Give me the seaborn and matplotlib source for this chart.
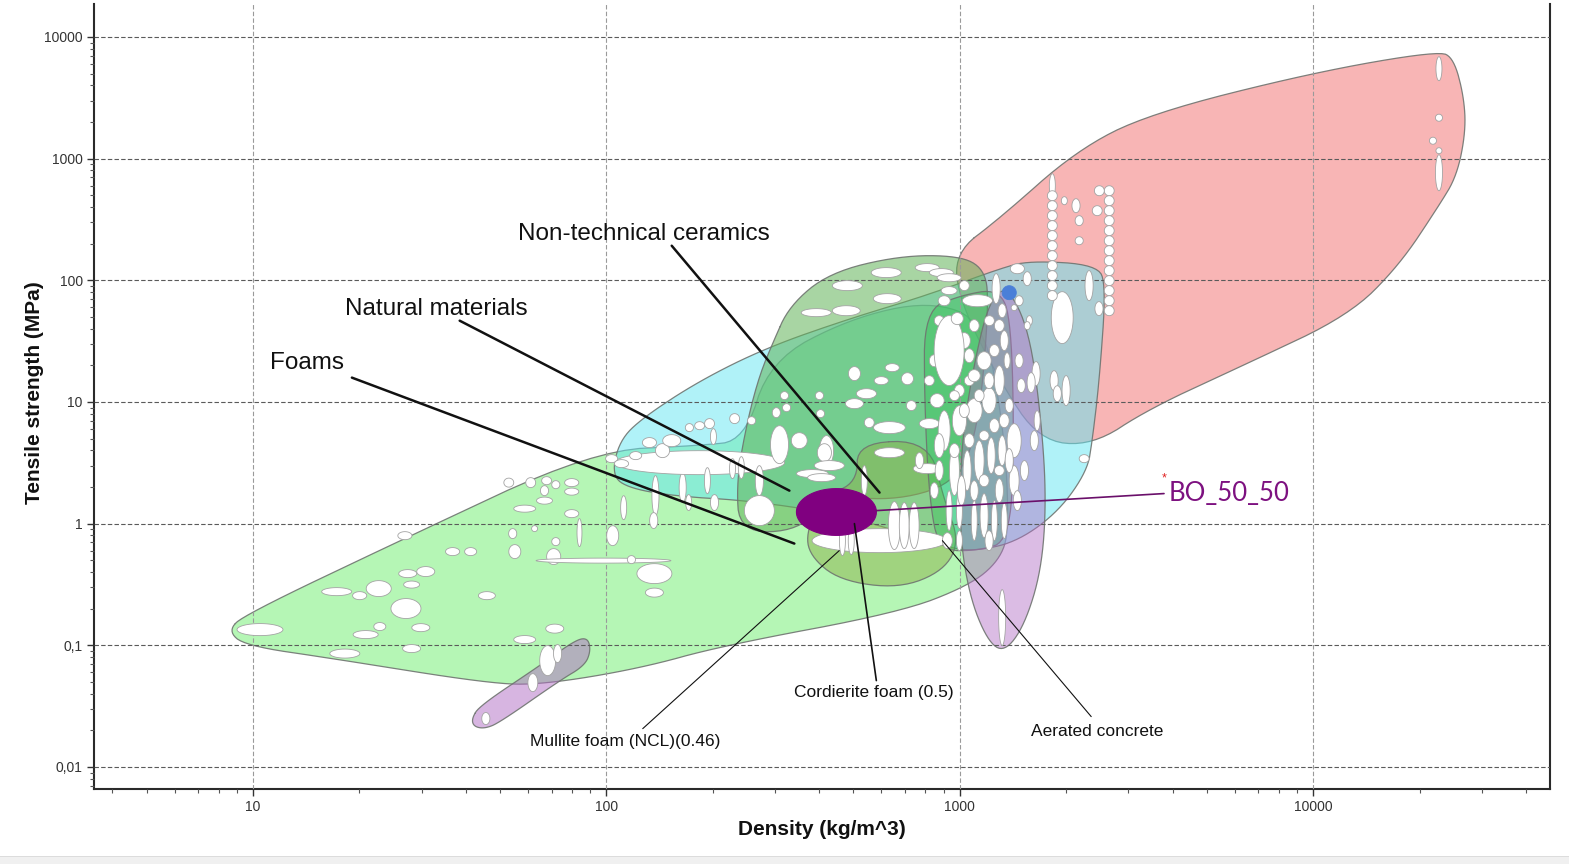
import numpy as np
import matplotlib
matplotlib.use("Agg")
import matplotlib.pyplot as plt
from matplotlib.patches import Rectangle
import seaborn as sns

# ---------------------------------------------------------------------------
# Axis ticks
# ---------------------------------------------------------------------------
DENSITY_TICKS = [10, 100, 1000, 10000]
DENSITY_TICK_LABELS = ["10", "100", "1000", "10000"]
STRENGTH_TICKS = [0.01, 0.1, 1, 10, 100, 1000, 10000]
STRENGTH_TICK_LABELS = ["0,01", "0,1", "1", "10", "100", "1000", "10000"]

# ---------------------------------------------------------------------------
# Family envelopes: outline vertices as log10(density [kg/m^3]) and
# log10(tensile strength [MPa])
# ---------------------------------------------------------------------------
FOAMS_LOG_RHO = [0.929, 0.977, 1.416, 1.961, 2.264, 2.391, 2.462, 2.688, 2.914, 3.069, 3.126,
                 3.140, 3.112, 3.027, 2.829, 2.329, 2.094, 1.820, 1.670, 1.226, 0.977]
FOAMS_LOG_SIG = [-0.879, -0.748, -0.140, 0.600, 0.641, 0.682, 1.339, 1.685, 1.832, 1.668, 0.764,
                 -0.058, -0.304, -0.509, -0.731, -1.003, -1.191, -1.323, -1.315, -1.109, -1.003]

METALS_LOG_RHO = [2.985, 3.112, 3.329, 3.536, 3.997, 4.356, 4.398, 4.426, 4.432, 4.407,
                  4.356, 4.243, 4.101, 3.819, 3.536, 3.375, 3.225, 3.112, 2.999]
METALS_LOG_SIG = [2.227, 2.506, 3.065, 3.369, 3.706, 3.887, 3.821, 3.517, 3.229, 2.860,
                  2.613, 2.120, 1.711, 1.323, 0.945, 0.640, 0.682, 1.175, 1.832]

COMPOSITES_LOG_RHO = [2.015, 2.037, 2.103, 2.264, 2.453, 2.688, 2.905, 3.112, 3.197, 3.389,
                      3.414, 3.395, 3.375, 3.361, 3.282, 3.168, 3.056, 2.970, 2.688, 2.405,
                      2.207, 2.066]
COMPOSITES_LOG_SIG = [0.394, 0.682, 0.871, 1.175, 1.446, 1.685, 1.874, 2.095, 2.161, 2.128,
                      1.956, 1.175, 0.682, 0.436, 0.107, -0.140, -0.222, -0.205, 0.066, 0.189,
                      0.222, 0.288]

NATURAL_LOG_RHO = [2.470, 2.518, 2.631, 2.829, 2.999, 3.069, 3.083, 3.056, 2.999, 2.829,
                   2.631, 2.547, 2.377, 2.368, 2.399, 2.433]
NATURAL_LOG_SIG = [1.479, 1.791, 2.063, 2.202, 2.202, 2.095, 1.832, 0.846, 0.353, 0.189,
                   0.230, -0.058, -0.074, 0.353, 0.846, 1.216]

POLYMERS_LOG_RHO = [2.900, 2.999, 3.112, 3.146, 3.154, 3.140, 3.056, 2.942, 2.914, 2.900]
POLYMERS_LOG_SIG = [1.750, 1.874, 1.931, 1.668, 0.600, -0.140, -0.222, -0.222, 0.189, 1.011]

NONTECH_LOG_RHO = [2.710, 2.914, 2.956, 2.999, 2.956, 2.829, 2.660, 2.575, 2.566, 2.617, 2.710]
NONTECH_LOG_SIG = [0.666, 0.682, 0.189, -0.140, -0.386, -0.534, -0.468, -0.263, -0.058, 0.230, 0.337]

ELASTOMERS_LOG_RHO = [3.134, 3.197, 3.231, 3.245, 3.231, 3.183, 3.126, 3.078, 3.027, 2.999,
                      3.005, 3.042, 3.084]
ELASTOMERS_LOG_SIG = [1.956, 1.586, 0.846, 0.189, -0.386, -0.838, -1.060, -0.961, -0.592, -0.058,
                      0.682, 1.339, 1.832]

ELASTOMER_FOAMS_LOG_RHO = [1.619, 1.642, 1.812, 1.910, 1.947, 1.956, 1.939, 1.868, 1.698, 1.656, 1.625]
ELASTOMER_FOAMS_LOG_SIG = [-1.602, -1.496, -1.167, -0.961, -0.937, -1.044, -1.167, -1.290, -1.635,
                           -1.685, -1.668]

# ---------------------------------------------------------------------------
# Individual materials: (log10 density centre, log10 strength centre,
#                        density range in decades, strength range in decades)
# ---------------------------------------------------------------------------
FOAM_GRADES = [
    (1.020, -0.871, 0.130, 0.099), (1.260, -1.068, 0.085, 0.074), (1.237, -0.559, 0.085, 0.066),
    (1.302, -0.592, 0.040, 0.066), (1.356, -0.534, 0.071, 0.131), (1.433, -0.698, 0.085, 0.164),
    (1.359, -0.846, 0.034, 0.066), (1.319, -0.912, 0.071, 0.066), (1.475, -0.855, 0.051, 0.066),
    (1.449, -1.027, 0.051, 0.066), (1.438, -0.411, 0.051, 0.066), (1.489, -0.394, 0.051, 0.082),
    (1.449, -0.501, 0.045, 0.058), (1.430, -0.099, 0.040, 0.066), (1.565, -0.230, 0.040, 0.066),
    (1.616, -0.230, 0.034, 0.066), (1.662, -0.592, 0.048, 0.066), (1.724, 0.337, 0.028, 0.074),
    (1.786, 0.337, 0.028, 0.082), (1.831, 0.353, 0.028, 0.066), (1.825, 0.271, 0.023, 0.082),
    (1.825, 0.189, 0.045, 0.058), (1.857, 0.320, 0.023, 0.066), (1.902, 0.337, 0.040, 0.066),
    (1.902, 0.263, 0.040, 0.058), (1.769, 0.123, 0.062, 0.058), (1.902, 0.082, 0.040, 0.066),
    (1.924, -0.074, 0.014, 0.230), (1.735, -0.082, 0.023, 0.082), (1.741, -0.230, 0.034, 0.115),
    (1.797, -0.041, 0.017, 0.049), (1.857, -0.148, 0.023, 0.066), (1.851, -0.271, 0.040, 0.131),
    (1.992, -0.304, 0.382, 0.041), (2.071, -0.296, 0.023, 0.066), (2.136, -0.411, 0.099, 0.164),
    (2.136, -0.567, 0.051, 0.074), (1.854, -0.863, 0.051, 0.074), (1.769, -0.953, 0.062, 0.066),
    (2.018, -0.099, 0.034, 0.164), (2.049, 0.131, 0.017, 0.197), (2.139, 0.230, 0.020, 0.329),
    (2.134, 0.025, 0.023, 0.131), (2.216, 0.296, 0.020, 0.247), (2.233, 0.173, 0.017, 0.131),
]

ELASTOMER_GRADES = [
    (1.834, -1.126, 0.045, 0.247), (1.862, -1.068, 0.023, 0.148), (1.792, -1.307, 0.028, 0.148),
    (1.659, -1.602, 0.023, 0.099), (3.120, -0.772, 0.020, 0.460),
]

NATURAL_GRADES = [
    (2.264, 0.501, 0.481, 0.197), (2.015, 0.534, 0.034, 0.066), (2.043, 0.493, 0.040, 0.066),
    (2.083, 0.559, 0.034, 0.066), (2.122, 0.666, 0.040, 0.082), (2.159, 0.600, 0.040, 0.115),
    (2.185, 0.682, 0.051, 0.099), (2.235, 0.789, 0.023, 0.066), (2.264, 0.805, 0.028, 0.066),
    (2.292, 0.822, 0.028, 0.082), (2.303, 0.715, 0.017, 0.131), (2.363, 0.863, 0.028, 0.082),
    (2.411, 0.846, 0.023, 0.066), (2.357, 0.452, 0.017, 0.164), (2.433, 0.353, 0.023, 0.247),
    (2.490, 0.649, 0.051, 0.312), (2.546, 0.682, 0.045, 0.131), (2.504, 1.052, 0.023, 0.066),
    (2.510, 0.953, 0.023, 0.066), (2.481, 0.912, 0.023, 0.082), (2.603, 1.052, 0.023, 0.066),
    (2.606, 0.904, 0.023, 0.066), (2.702, 1.233, 0.034, 0.115), (2.809, 1.282, 0.040, 0.066),
    (2.852, 1.191, 0.034, 0.099), (2.778, 1.175, 0.040, 0.066), (2.736, 1.068, 0.057, 0.082),
    (2.702, 0.986, 0.051, 0.082), (2.863, 0.970, 0.028, 0.082), (2.744, 0.830, 0.028, 0.082),
    (2.801, 0.789, 0.090, 0.099), (2.801, 0.583, 0.085, 0.082), (2.914, 0.822, 0.057, 0.082),
    (2.623, 0.600, 0.040, 0.247), (2.583, 0.411, 0.090, 0.066), (2.792, 2.063, 0.085, 0.082),
    (2.682, 1.956, 0.085, 0.082), (2.795, 1.849, 0.079, 0.082), (2.594, 1.734, 0.085, 0.066),
    (2.679, 1.750, 0.079, 0.082), (2.908, 2.104, 0.068, 0.066), (2.948, 2.063, 0.068, 0.066),
    (2.970, 2.021, 0.068, 0.066), (2.617, 0.583, 0.040, 0.148), (2.631, 0.477, 0.085, 0.082),
    (2.609, 0.378, 0.079, 0.066), (2.433, 0.107, 0.085, 0.247), (2.286, 0.353, 0.017, 0.214),
    (2.306, 0.173, 0.023, 0.131), (2.382, 0.460, 0.017, 0.181), (2.908, 0.452, 0.079, 0.082),
    (2.730, 0.353, 0.017, 0.247),
]

CERAMIC_FOAM_GRADES = [
    (2.773, -0.140, 0.382, 0.197), (2.815, -0.016, 0.034, 0.394), (2.843, -0.016, 0.028, 0.378),
    (2.871, -0.016, 0.028, 0.378), (2.668, -0.140, 0.017, 0.247), (2.693, -0.140, 0.017, 0.230),
]

POLYMER_GRADES = [
    (2.956, 0.764, 0.034, 0.329), (2.999, 0.846, 0.040, 0.247), (3.041, 0.929, 0.045, 0.197),
    (3.083, 1.011, 0.040, 0.214), (3.112, 1.175, 0.028, 0.247), (3.069, 1.339, 0.040, 0.148),
    (3.013, 1.504, 0.034, 0.131), (3.041, 1.627, 0.028, 0.099), (3.084, 1.668, 0.028, 0.082),
    (3.120, 1.750, 0.023, 0.115), (3.126, 1.504, 0.023, 0.164), (3.134, 1.339, 0.017, 0.131),
    (2.985, 0.436, 0.028, 0.411), (3.021, 0.436, 0.023, 0.329), (3.055, 0.518, 0.028, 0.329),
    (3.089, 0.559, 0.023, 0.296), (3.120, 0.600, 0.023, 0.247), (2.970, 0.107, 0.017, 0.329),
    (2.999, 0.107, 0.017, 0.296), (3.041, 0.025, 0.017, 0.329), (3.069, 0.066, 0.023, 0.362),
    (3.098, 0.025, 0.017, 0.329), (3.126, 0.025, 0.017, 0.296), (2.965, -0.140, 0.028, 0.131),
    (2.942, 0.436, 0.023, 0.164), (2.936, 1.011, 0.040, 0.115), (2.914, 1.175, 0.028, 0.082),
    (2.928, 1.339, 0.028, 0.099), (2.942, 1.668, 0.028, 0.082), (3.154, 0.682, 0.040, 0.279),
    (3.154, 0.353, 0.028, 0.247), (3.163, 0.189, 0.023, 0.164), (3.112, 0.436, 0.028, 0.082),
    (3.027, 1.175, 0.028, 0.082), (3.069, 0.723, 0.028, 0.082), (2.999, 1.093, 0.028, 0.099),
    (3.140, 0.970, 0.023, 0.115), (2.970, 1.915, 0.045, 0.066), (3.013, 1.956, 0.028, 0.082),
    (3.197, 1.668, 0.017, 0.082), (3.168, 1.832, 0.023, 0.082), (3.219, 0.846, 0.017, 0.164),
    (3.211, 0.682, 0.023, 0.164), (2.970, 1.422, 0.085, 0.575), (3.050, 1.832, 0.085, 0.099),
    (3.103, 1.931, 0.023, 0.247), (2.985, 1.052, 0.028, 0.082), (3.027, 0.682, 0.028, 0.115),
    (3.069, 0.353, 0.028, 0.099), (3.098, 0.805, 0.028, 0.115), (3.041, 1.216, 0.034, 0.099),
    (3.083, 1.175, 0.028, 0.131), (2.985, 0.600, 0.028, 0.115), (2.956, 1.832, 0.034, 0.082),
    (2.993, 1.685, 0.034, 0.099), (3.112, 1.627, 0.028, 0.099), (3.027, 1.380, 0.028, 0.115),
    (3.098, 1.422, 0.028, 0.099), (3.055, 1.052, 0.028, 0.099), (3.013, 0.929, 0.028, 0.115),
    (3.126, 0.846, 0.028, 0.115), (2.942, 0.641, 0.028, 0.197), (3.005, 0.271, 0.023, 0.247),
    (3.112, 0.271, 0.023, 0.197), (3.140, 0.518, 0.023, 0.197), (3.041, 0.271, 0.023, 0.164),
    (3.083, -0.140, 0.023, 0.164), (2.999, -0.140, 0.017, 0.164), (2.928, 0.271, 0.023, 0.131),
    (2.886, 0.518, 0.023, 0.131), (3.183, 0.436, 0.023, 0.164), (3.168, 1.339, 0.023, 0.115),
    (3.174, 1.134, 0.023, 0.115),
]

COMPOSITE_GRADES = [
    (3.290, 1.693, 0.062, 0.427), (3.366, 1.956, 0.023, 0.247), (3.394, 1.767, 0.023, 0.115),
    (3.216, 1.233, 0.023, 0.197), (3.202, 1.159, 0.023, 0.164), (3.267, 1.175, 0.023, 0.164),
    (3.276, 1.068, 0.023, 0.131), (3.301, 1.093, 0.023, 0.247), (3.352, 0.534, 0.028, 0.066),
    (3.191, 1.627, 0.017, 0.066), (3.154, 1.775, 0.017, 0.049), (3.163, 2.095, 0.040, 0.082),
    (3.191, 2.013, 0.023, 0.115),
]

HIGHLIGHTED_GRADE = [(3.140, 1.898, 0.040, 0.115)]

GLASS_GRADES = [
    (3.262, 2.777, 0.017, 0.197), (3.262, 2.695, 0.028, 0.082), (3.262, 2.613, 0.028, 0.082),
    (3.262, 2.531, 0.028, 0.082), (3.262, 2.449, 0.028, 0.082), (3.262, 2.367, 0.028, 0.082),
    (3.262, 2.284, 0.028, 0.082), (3.262, 2.202, 0.028, 0.082), (3.262, 2.120, 0.028, 0.082),
    (3.262, 2.038, 0.028, 0.082), (3.262, 1.956, 0.028, 0.082), (3.262, 1.874, 0.028, 0.082),
    (3.329, 2.613, 0.023, 0.115), (3.338, 2.490, 0.023, 0.082), (3.338, 2.325, 0.023, 0.066),
    (3.296, 2.654, 0.017, 0.066),
]

TECH_CERAMIC_GRADES = [
    (3.423, 2.736, 0.028, 0.082), (3.423, 2.654, 0.028, 0.082), (3.423, 2.572, 0.028, 0.082),
    (3.423, 2.490, 0.028, 0.082), (3.423, 2.408, 0.028, 0.082), (3.423, 2.325, 0.028, 0.082),
    (3.423, 2.243, 0.028, 0.082), (3.423, 2.161, 0.028, 0.082), (3.423, 2.079, 0.028, 0.082),
    (3.423, 1.997, 0.028, 0.082), (3.423, 1.915, 0.028, 0.082), (3.423, 1.832, 0.028, 0.082),
    (3.423, 1.750, 0.028, 0.082), (3.395, 2.736, 0.028, 0.082), (3.389, 2.572, 0.028, 0.082),
]

METAL_GRADES = [
    (4.356, 3.739, 0.017, 0.197), (4.356, 3.336, 0.020, 0.058), (4.339, 3.147, 0.020, 0.058),
    (4.356, 3.065, 0.017, 0.049), (4.356, 2.884, 0.020, 0.296),
]

# Sample BO_50_50: measured density (kg/m^3) and tensile strength (MPa) ranges
BO_DENSITY = (345, 581)
BO_STRENGTH = (0.80, 1.94)


# ---------------------------------------------------------------------------
# Helpers
# ---------------------------------------------------------------------------
def chaikin(points, n_iter=3):
    """Corner-cutting smoothing of a closed polygon."""
    pts = np.asarray(points, dtype=float)
    for _ in range(n_iter):
        nxt = np.roll(pts, -1, axis=0)
        q = 0.75 * pts + 0.25 * nxt
        r = 0.25 * pts + 0.75 * nxt
        pts = np.empty((2 * len(pts), 2))
        pts[0::2] = q
        pts[1::2] = r
    return pts


def draw_envelope(ax, log_rho, log_sig, color, alpha, z):
    pts = chaikin(np.column_stack([log_rho, log_sig]), 3)
    pts = np.vstack([pts, pts[:1]])
    x, y = 10 ** pts[:, 0], 10 ** pts[:, 1]
    ax.fill(x, y, facecolor=color, alpha=alpha, edgecolor="none", zorder=z)
    ax.plot(x, y, color="#6f7470", lw=0.9, alpha=0.9, zorder=z + 0.05)


def bubble(lx, ly, dx, dy, n=72):
    t = np.linspace(0, 2 * np.pi, n)
    return 10 ** (lx + 0.5 * dx * np.cos(t)), 10 ** (ly + 0.5 * dy * np.sin(t))


def draw_grades(ax, grades, face="white", edge="#a3a3a3", z=5):
    for lx, ly, dx, dy in grades:
        x, y = bubble(lx, ly, dx, dy)
        ax.fill(x, y, facecolor=face, edgecolor=edge, lw=0.6, zorder=z)


def at(lx, ly):
    return 10 ** lx, 10 ** ly


# ---------------------------------------------------------------------------
# Figure
# ---------------------------------------------------------------------------
sns.set_theme(style="white")
plt.rcParams["font.family"] = ["Liberation Sans", "DejaVu Sans"]

fig = plt.figure(figsize=(15.69, 8.64), dpi=100)
fig.patch.set_facecolor("white")
ax = fig.add_axes([0.0599, 0.0868, 0.928, 0.9086])
ax.set_xscale("log")
ax.set_yscale("log")
ax.set_xlim(3.55, 46800)
ax.set_ylim(0.00659, 18660)
ax.set_facecolor("white")

# family envelopes
draw_envelope(ax, FOAMS_LOG_RHO, FOAMS_LOG_SIG, "#6cee6c", 0.50, 1.0)
draw_envelope(ax, METALS_LOG_RHO, METALS_LOG_SIG, "#f36c6c", 0.50, 1.1)
draw_envelope(ax, COMPOSITES_LOG_RHO, COMPOSITES_LOG_SIG, "#62e6f2", 0.50, 1.2)
draw_envelope(ax, NATURAL_LOG_RHO, NATURAL_LOG_SIG, "#62b358", 0.55, 1.3)
draw_envelope(ax, NONTECH_LOG_RHO, NONTECH_LOG_SIG, "#8cb24a", 0.50, 1.4)
draw_envelope(ax, POLYMERS_LOG_RHO, POLYMERS_LOG_SIG, "#2fbf55", 0.40, 1.5)
draw_envelope(ax, ELASTOMERS_LOG_RHO, ELASTOMERS_LOG_SIG, "#b06cc4", 0.45, 1.6)
draw_envelope(ax, ELASTOMER_FOAMS_LOG_RHO, ELASTOMER_FOAMS_LOG_SIG, "#b06cc4", 0.50, 1.7)

# grid above the envelopes, below the material bubbles
ax.set_axisbelow(False)
ax.yaxis.grid(True, which="major", color="#5a5a5a", linestyle=(0, (4, 2)), lw=0.8)
ax.xaxis.grid(True, which="major", color="#9a9a9a", linestyle=(0, (4, 2)), lw=0.8)
for gl in ax.get_xgridlines() + ax.get_ygridlines():
    gl.set_zorder(2.5)

# individual materials
for grades in (FOAM_GRADES, ELASTOMER_GRADES, NATURAL_GRADES, CERAMIC_FOAM_GRADES,
               POLYMER_GRADES, COMPOSITE_GRADES, GLASS_GRADES, TECH_CERAMIC_GRADES,
               METAL_GRADES):
    draw_grades(ax, grades)
draw_grades(ax, HIGHLIGHTED_GRADE, face="#4a7fd8", edge="#4a7fd8")

# BO_50_50 sample bubble
bo_lx = 0.5 * (np.log10(BO_DENSITY[0]) + np.log10(BO_DENSITY[1]))
bo_ly = 0.5 * (np.log10(BO_STRENGTH[0]) + np.log10(BO_STRENGTH[1]))
bo_dx = np.log10(BO_DENSITY[1]) - np.log10(BO_DENSITY[0])
bo_dy = np.log10(BO_STRENGTH[1]) - np.log10(BO_STRENGTH[0])
bx, by = bubble(bo_lx, bo_ly, bo_dx, bo_dy)
ax.fill(bx, by, facecolor="#800080", edgecolor="#800080", lw=0.8, zorder=7)

# leader lines and labels
leaders = [
    ("Non-technical ceramics", (1.749, 2.383), (2.185, 2.284), (2.773, 0.255), 17.5, 1.8),
    ("Natural materials", (1.260, 1.767), (1.585, 1.668), (2.518, 0.271), 17.5, 1.8),
    ("Foams", (1.048, 1.323), (1.280, 1.200), (2.532, -0.164), 17.5, 1.8),
    ("Mullite foam (NCL)(0.46)", (1.783, -1.791), (2.103, -1.685), (2.659, -0.222), 12.5, 0.8),
    ("Cordierite foam (0.5)", (2.532, -1.389), (2.764, -1.290), (2.702, 0.000), 12.5, 1.2),
    ("Aerated concrete", (3.202, -1.709), (3.372, -1.586), (2.951, -0.140), 12.5, 0.8),
]
for text, tpos, p0, p1, fs, lw in leaders:
    xs, ys = zip(at(*p0), at(*p1))
    sns.lineplot(x=list(xs), y=list(ys), ax=ax, color="#111111", lw=lw, sort=False,
                 estimator=None, legend=False, zorder=8)
    ax.text(*at(*tpos), text, fontsize=fs, color="#111111", ha="left", va="center", zorder=9)

# BO_50_50 leader and label
lx0, ly0 = at(bo_lx + 0.5 * bo_dx, 0.107)
lx1, ly1 = at(3.578, 0.247)
sns.lineplot(x=[lx0, lx1], y=[ly0, ly1], ax=ax, color="#6a0f6a", lw=1.2, sort=False,
             estimator=None, legend=False, zorder=8)
ax.text(*at(3.592, 0.247), "BO_50_50", fontsize=18.5, color="#7d1180", ha="left",
        va="center", family=["Lato", "DejaVu Sans"], zorder=9)
ax.text(*at(3.578, 0.375), "*", fontsize=9, color="#e02020", ha="center", va="center", zorder=9)

# axes styling
ax.set_xticks(DENSITY_TICKS)
ax.set_xticklabels(DENSITY_TICK_LABELS)
ax.set_yticks(STRENGTH_TICKS)
ax.set_yticklabels(STRENGTH_TICK_LABELS)
ax.xaxis.set_minor_locator(matplotlib.ticker.LogLocator(base=10, subs=np.arange(2, 10)))
ax.yaxis.set_minor_locator(matplotlib.ticker.LogLocator(base=10, subs=np.arange(2, 10)))
ax.xaxis.set_minor_formatter(matplotlib.ticker.NullFormatter())
ax.yaxis.set_minor_formatter(matplotlib.ticker.NullFormatter())
ax.tick_params(which="major", direction="out", length=5, width=1.0, color="#333333",
               labelsize=10, labelcolor="#333333", bottom=True, left=True, pad=3)
ax.tick_params(which="minor", direction="out", length=3, width=0.8, color="#555555",
               bottom=True, left=True)
for side in ("left", "bottom", "right"):
    ax.spines[side].set_color("#2a2a2a")
    ax.spines[side].set_linewidth(1.5)
    ax.spines[side].set_visible(True)
ax.spines["top"].set_visible(False)

fig.text(0.524, 0.0405, "Density (kg/m^3)", fontsize=15, fontweight="bold",
         ha="center", va="center", color="#111111")
fig.text(0.0223, 0.545, "Tensile strength (MPa)", fontsize=15, fontweight="bold",
         rotation=90, ha="center", va="center", color="#111111")

# light strip along the bottom edge
fig.patches.append(Rectangle((0, 0), 1, 7 / 864, transform=fig.transFigure,
                             facecolor="#f0f0f0", edgecolor="none", zorder=0))
fig.patches.append(Rectangle((0, 7 / 864), 1, 1 / 864, transform=fig.transFigure,
                             facecolor="#dcdcdc", edgecolor="none", zorder=0))

fig.savefig("out.png", dpi=100)
